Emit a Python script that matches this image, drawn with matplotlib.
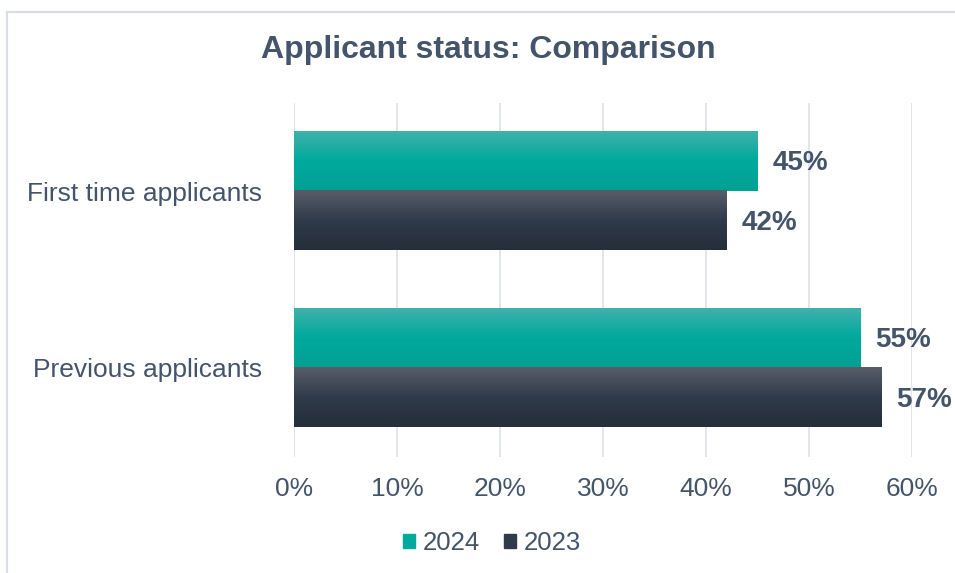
import matplotlib
matplotlib.use("Agg")
import matplotlib.pyplot as plt
import numpy as np
from matplotlib.patches import Rectangle
from matplotlib.colors import LinearSegmentedColormap

plt.rcParams['font.family'] = ['Liberation Sans', 'DejaVu Sans']

categories = ["First time applicants", "Previous applicants"]
series_names = ["2024", "2023"]
values_2024 = [45, 55]
values_2023 = [42, 57]
xticks = [0, 10, 20, 30, 40, 50, 60]
title = "Applicant status: Comparison"

text_color = "#44546A"
grid_color = "#DDE1E8"
teal_grad = ["#3EB2AA", "#00A99D", "#00A194"]
dark_grad = ["#585E69", "#2F3B4A", "#252E3A"]

W, H = 955, 573
fig = plt.figure(figsize=(W / 100, H / 100), dpi=100)

# outer frame
fig.patches.append(Rectangle((7 / W, -0.1), 1.2, 1 - 12 / H + 0.1, transform=fig.transFigure,
                             fill=False, edgecolor="#D9DEE4", linewidth=1.6))

ax = fig.add_axes([294 / W, 1 - 456.5 / H, (912 - 294) / W, (456.5 - 102.5) / H])

bar_h = 0.336
ypos = np.arange(len(categories))
series = [(values_2024, teal_grad, -bar_h / 2), (values_2023, dark_grad, bar_h / 2)]

ax.set_xlim(0, 60)
ax.set_ylim(1.5, -0.5)

grad = np.linspace(0, 1, 256).reshape(-1, 1)
for vals, cols, off in series:
    cmap = LinearSegmentedColormap.from_list("g", cols)
    for yi, v in zip(ypos, vals):
        y0 = yi + off - bar_h / 2
        y1 = yi + off + bar_h / 2
        ax.imshow(grad, cmap=cmap, aspect="auto", extent=(0, v, y1, y0),
                  interpolation="bicubic", zorder=2)
        ax.text(v + 1.45, yi + off + 0.012, f"{v}%", va="center", ha="left",
                fontsize=20, fontweight="bold", color=text_color, zorder=3)

ax.set_xlim(0, 60)
ax.set_ylim(1.5, -0.5)
ax.set_xticks(xticks)
ax.set_xticklabels([f"{t}%" for t in xticks])
ax.set_yticks(ypos)
ax.set_yticklabels(categories)
ax.tick_params(axis="both", length=0, labelsize=19, labelcolor=text_color)
ax.tick_params(axis="x", pad=15)
ax.tick_params(axis="y", pad=23)
ax.grid(axis="x", color=grid_color, linewidth=1.2, zorder=0)
ax.set_axisbelow(True)
for s in ax.spines.values():
    s.set_visible(False)
ax.axvline(0, color=grid_color, linewidth=1.2, zorder=1)

fig.text(488 / W, 1 - 50 / H, title, ha="center", va="center", fontsize=23,
         fontweight="bold", color=text_color)

# legend
handles = [Rectangle((0, 0), 1, 1, color=teal_grad[1]), Rectangle((0, 0), 1, 1, color=dark_grad[1])]
fig.legend(handles, series_names, loc="center", bbox_to_anchor=(492 / W, 1 - 543 / H),
           ncol=2, frameon=False, fontsize=18.5, labelcolor=text_color,
           handlelength=0.5, handleheight=0.5, handletextpad=0.3, columnspacing=0.9)

fig.savefig("out.png", dpi=100)
